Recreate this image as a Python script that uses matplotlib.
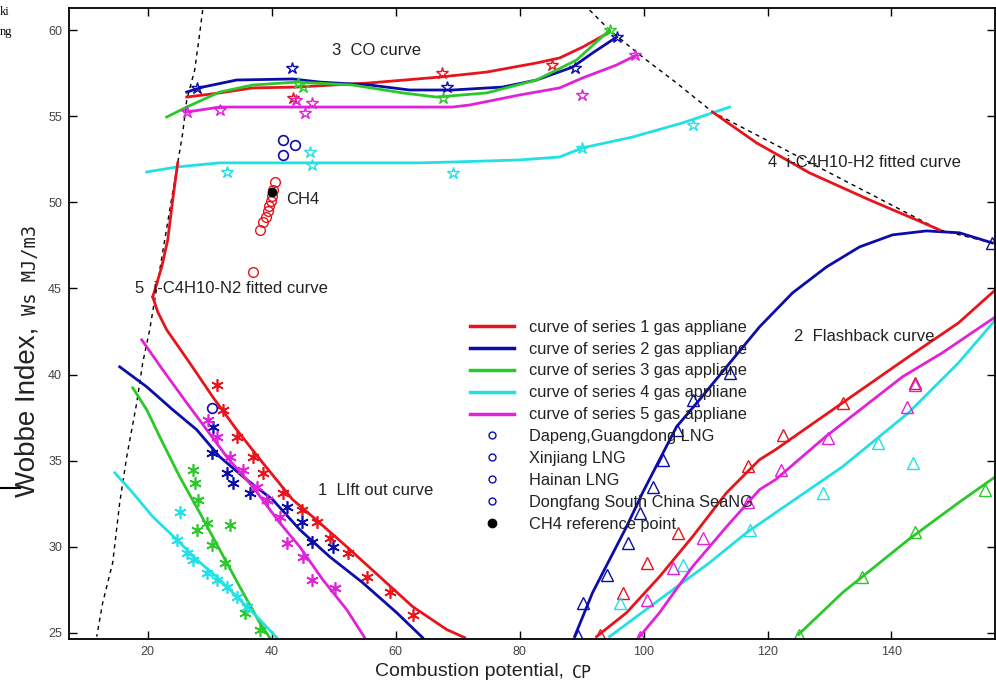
import matplotlib
matplotlib.use("Agg")
import matplotlib.pyplot as plt
from matplotlib.lines import Line2D

# colours of the five gas-appliance series
SERIES_COLORS = ["#e8141c", "#0c0caa", "#2ac82a", "#22e0e4", "#e022d8"]
SERIES_LABELS = [f"curve of series {i} gas appliane" for i in range(1, 6)]

# ---- dashed boundary lines (CP, Wobbe) ----
bound_left_cp = [28.87, 28.39, 27.58, 26.29, 25.65, 24.84, 23.55, 21.94, 20.32, 19.19,
                 18.23, 16.61, 15.48, 14.35, 12.74, 11.77]
bound_left_w = [61.16, 59.83, 57.68, 55.94, 54.03, 52.29, 49.56, 46.08, 42.60, 40.68,
                38.36, 35.23, 32.56, 29.08, 26.76, 24.79]
bound_right_cp = [91.29, 94.52, 99.84, 105.32, 111.13, 147.74, 156.29]
bound_right_w = [61.16, 60.00, 58.43, 56.93, 55.24, 48.40, 47.64]

# ---- 4: i-C4H10-H2 fitted curve ----
h2_cp = [111.13, 118.23, 126.77, 136.45, 144.03, 147.74]
h2_w = [55.24, 53.45, 51.71, 50.14, 48.98, 48.40]

# ---- 5: i-C4H10-N2 fitted curve ----
n2_cp = [24.84, 24.03, 23.23, 22.26, 20.81]
n2_w = [52.29, 50.14, 47.82, 46.25, 44.51]

# ---- 1: lift out curves ----
lift1_cp = [20.81, 21.61, 23.06, 26.77, 30.48, 34.35, 38.55, 43.39, 46.61, 52.10, 57.42,
            62.74, 68.23, 71.13]
lift1_w = [44.51, 43.64, 42.60, 40.68, 38.71, 36.80, 34.88, 32.74, 31.75, 30.01, 28.27,
           26.53, 25.20, 24.73]
lift2_cp = [15.48, 19.84, 24.03, 27.90, 31.61, 35.97, 40.16, 44.52, 49.35, 54.68, 60.16, 64.35]
lift2_w = [40.45, 39.29, 37.96, 36.80, 35.23, 33.90, 32.74, 31.00, 29.43, 27.92, 26.18, 24.73]
lift3_cp = [17.58, 19.84, 22.42, 25.16, 28.39, 31.61, 34.84, 38.06, 39.68]
lift3_w = [39.23, 37.96, 36.04, 34.07, 31.98, 29.84, 27.69, 25.60, 24.73]
lift4_cp = [14.68, 17.58, 20.81, 24.68, 27.90, 31.61, 34.84, 38.06, 40.81]
lift4_w = [34.30, 33.14, 31.75, 30.42, 29.26, 28.10, 26.94, 25.78, 24.73]
lift5_cp = [19.03, 22.42, 26.29, 29.52, 32.74, 36.94, 41.29, 44.52, 48.23, 52.10, 55.00]
lift5_w = [42.02, 40.28, 38.36, 36.80, 35.23, 33.49, 31.40, 30.01, 28.10, 26.36, 24.73]

# lift out test points
lift1_pts_cp = [31.13, 32.10, 34.35, 36.94, 38.55, 41.77, 44.84, 47.26, 49.35, 52.26, 55.32, 59.03, 62.74]
lift1_pts_w = [39.41, 37.96, 36.39, 35.23, 34.30, 33.14, 32.16, 31.46, 30.53, 29.66, 28.27, 27.40, 26.07]
lift2_pts_cp = [30.48, 30.32, 32.74, 33.71, 36.45, 39.19, 42.42, 44.84, 46.45, 49.84]
lift2_pts_w = [36.97, 35.46, 34.30, 33.72, 33.14, 32.74, 32.33, 31.46, 30.30, 30.01]
lift3_pts_cp = [27.26, 27.58, 28.06, 29.52, 27.90, 33.23, 30.32, 32.42, 35.65, 38.06]
lift3_pts_w = [34.48, 33.72, 32.74, 31.40, 31.00, 31.29, 30.13, 29.08, 26.18, 25.20]
lift4_pts_cp = [25.16, 24.68, 26.29, 27.26, 29.52, 31.13, 32.74, 34.35, 35.97]
lift4_pts_w = [32.04, 30.42, 29.66, 29.26, 28.50, 28.10, 27.69, 27.11, 26.53]
lift5_pts_cp = [29.68, 31.13, 33.23, 35.32, 37.58, 39.19, 41.29, 42.42, 45.00, 46.45, 50.16]
lift5_pts_w = [37.38, 36.39, 35.23, 34.48, 33.49, 32.74, 31.75, 30.24, 29.43, 28.10, 27.63]

# ---- 3: CO curves ----
co1_cp = [26.29, 31.61, 36.94, 44.03, 55.81, 67.10, 74.68, 82.74, 86.45, 90.16, 94.52]
co1_w = [56.11, 56.35, 56.64, 56.69, 56.93, 57.27, 57.56, 58.09, 58.38, 59.01, 59.88]
co2_cp = [26.29, 28.87, 34.35, 43.39, 47.74, 55.81, 62.26, 69.19, 77.26, 82.74, 88.55, 91.77, 95.65]
co2_w = [56.40, 56.69, 57.10, 57.16, 56.98, 56.81, 56.52, 56.52, 56.69, 57.10, 57.85, 58.67, 59.59]
co3_cp = [23.06, 26.29, 31.61, 36.94, 44.03, 53.06, 61.13, 66.61, 74.68, 82.74, 89.19, 94.52]
co3_w = [54.95, 55.53, 56.40, 56.81, 56.98, 56.81, 56.35, 56.11, 56.35, 57.10, 58.26, 60.00]
co4_cp = [19.84, 24.68, 31.61, 47.74, 63.87, 69.19, 80.00, 86.45, 90.16, 98.23, 106.29, 113.87]
co4_w = [51.76, 52.05, 52.29, 52.29, 52.29, 52.34, 52.46, 52.63, 53.16, 53.79, 54.61, 55.53]
co5_cp = [26.29, 31.61, 42.42, 58.55, 69.19, 71.94, 80.00, 86.45, 90.16, 95.65, 98.87]
co5_w = [55.24, 55.53, 55.53, 55.53, 55.53, 55.65, 56.23, 56.64, 57.22, 57.97, 58.55]

co1_pts_cp = [43.39, 67.42, 85.16]
co1_pts_w = [56.06, 57.50, 57.97]
co2_pts_cp = [27.90, 43.23, 68.23, 88.87, 95.65]
co2_pts_w = [56.64, 57.80, 56.69, 57.80, 59.59]
co3_pts_cp = [44.19, 45.00, 67.58, 94.52]
co3_pts_w = [56.93, 56.69, 56.06, 60.00]
co4_pts_cp = [32.74, 46.13, 46.45, 69.19, 90.00, 107.90]
co4_pts_w = [51.76, 52.92, 52.17, 51.71, 53.16, 54.49]
co5_pts_cp = [26.29, 31.61, 43.87, 45.32, 46.45, 90.00, 98.55]
co5_pts_w = [55.24, 55.36, 55.94, 55.19, 55.77, 56.23, 58.55]

# ---- 2: flashback curves ----
flash1_cp = [92.42, 97.26, 102.58, 107.90, 113.39, 118.71, 121.29, 132.10, 142.74, 150.81, 156.77]
flash1_w = [24.79, 26.18, 28.27, 30.59, 33.14, 35.06, 35.64, 38.36, 41.03, 43.00, 44.92]
flash2_cp = [88.87, 91.77, 94.52, 97.26, 99.84, 102.58, 105.32, 109.03, 113.39, 118.71, 124.03,
             129.52, 134.84, 140.16, 145.65, 150.97, 156.29]
flash2_w = [24.79, 27.34, 29.26, 31.17, 33.14, 35.06, 36.97, 38.54, 40.45, 42.77, 44.74,
            46.25, 47.41, 48.11, 48.34, 48.23, 47.64]
flash3_cp = [125.00, 132.10, 142.74, 150.81, 156.77]
flash3_w = [24.91, 27.34, 30.42, 32.56, 34.07]
flash4_cp = [94.52, 102.58, 110.65, 116.61, 121.29, 132.10, 142.74, 150.81, 156.77]
flash4_w = [24.79, 26.94, 29.08, 30.82, 31.98, 34.65, 37.78, 40.68, 43.18]
flash5_cp = [99.35, 102.58, 107.90, 113.39, 118.71, 121.29, 129.35, 141.77, 148.23, 156.77]
flash5_w = [24.79, 26.18, 28.85, 31.17, 33.32, 33.90, 36.39, 39.87, 41.27, 43.35]

flash1_pts_cp = [92.90, 96.61, 100.48, 105.48, 116.77, 122.42, 132.10, 143.87]
flash1_pts_w = [24.91, 27.34, 29.08, 30.82, 34.71, 36.51, 38.36, 39.52]
flash2_pts_cp = [89.35, 90.16, 94.03, 97.42, 99.35, 101.45, 103.06, 105.32, 107.90, 113.87, 156.29]
flash2_pts_w = [24.85, 26.76, 28.39, 30.24, 31.98, 33.49, 35.06, 36.80, 38.54, 40.10, 47.64]
flash3_pts_cp = [125.00, 135.32, 143.87, 155.16]
flash3_pts_w = [24.91, 28.27, 30.88, 33.32]
flash4_pts_cp = [96.13, 106.29, 117.10, 128.87, 137.90, 143.55]
flash4_pts_w = [26.76, 28.97, 31.00, 33.14, 36.04, 34.88]
flash5_pts_cp = [99.35, 100.48, 104.68, 109.52, 116.77, 122.10, 129.68, 142.58, 143.87]
flash5_pts_w = [24.79, 26.94, 28.79, 30.53, 32.62, 34.48, 36.33, 38.13, 39.41]

# ---- gas samples ----
ch4_cp = [40.48, 40.16, 40.00, 39.84, 39.52, 39.35, 39.03, 38.55, 38.06, 36.94]
ch4_w = [51.18, 50.72, 50.37, 50.08, 49.79, 49.50, 49.15, 48.86, 48.40, 45.96]
ch4_ref_cp = [40.00]
ch4_ref_w = [50.60]
lng_names = ["Dapeng,Guangdong LNG", "Xinjiang LNG", "Hainan LNG", "Dongfang South China SeaNG"]
lng_cp = [41.77, 43.71, 41.77, 30.32]
lng_w = [53.62, 53.33, 52.75, 38.07]

X_TICKS = [20, 40, 60, 80, 100, 120, 140]
Y_TICKS = [25, 30, 35, 40, 45, 50, 55, 60]

plt.rcParams["font.family"] = ["Liberation Sans", "DejaVu Sans"]

fig = plt.figure(figsize=(9.96, 6.84), dpi=100)
ax = fig.add_axes([69 / 996, 45 / 684, 926 / 996, 631 / 684])

LW = 2.0
ASTERISK = (6, 2, 0)

# boundaries
ax.plot(bound_left_cp, bound_left_w, ls=(0, (3, 3)), color="black", lw=1.0)
ax.plot(bound_right_cp, bound_right_w, ls=(0, (3, 3)), color="black", lw=1.0)

lifts = [(lift1_cp, lift1_w), (lift2_cp, lift2_w), (lift3_cp, lift3_w),
         (lift4_cp, lift4_w), (lift5_cp, lift5_w)]
lift_pts = [(lift1_pts_cp, lift1_pts_w), (lift2_pts_cp, lift2_pts_w), (lift3_pts_cp, lift3_pts_w),
            (lift4_pts_cp, lift4_pts_w), (lift5_pts_cp, lift5_pts_w)]
cos = [(co1_cp, co1_w), (co2_cp, co2_w), (co3_cp, co3_w), (co4_cp, co4_w), (co5_cp, co5_w)]
co_pts = [(co1_pts_cp, co1_pts_w), (co2_pts_cp, co2_pts_w), (co3_pts_cp, co3_pts_w),
          (co4_pts_cp, co4_pts_w), (co5_pts_cp, co5_pts_w)]
flashes = [(flash1_cp, flash1_w), (flash2_cp, flash2_w), (flash3_cp, flash3_w),
           (flash4_cp, flash4_w), (flash5_cp, flash5_w)]
flash_pts = [(flash1_pts_cp, flash1_pts_w), (flash2_pts_cp, flash2_pts_w), (flash3_pts_cp, flash3_pts_w),
             (flash4_pts_cp, flash4_pts_w), (flash5_pts_cp, flash5_pts_w)]

for i, c in enumerate(SERIES_COLORS):
    ax.plot(*lifts[i], color=c, lw=LW)
    ax.plot(*cos[i], color=c, lw=LW)
    ax.plot(*flashes[i], color=c, lw=LW)
    ax.plot(*lift_pts[i], ls="none", marker=ASTERISK, ms=9, mew=1.2, color=c)
    ax.plot(*co_pts[i], ls="none", marker="*", ms=9, mfc="none", mew=1.0, color=c)
    ax.plot(*flash_pts[i], ls="none", marker="^", ms=8, mfc="none", mew=1.0, color=c)

ax.plot(h2_cp, h2_w, color=SERIES_COLORS[0], lw=LW)
ax.plot(n2_cp, n2_w, color=SERIES_COLORS[0], lw=LW)

ax.plot(ch4_cp, ch4_w, ls="none", marker="o", ms=7, mfc="none", mew=1.0, color=SERIES_COLORS[0])
ax.plot(lng_cp, lng_w, ls="none", marker="o", ms=7, mfc="none", mew=1.2, color=SERIES_COLORS[1])
ax.plot(ch4_ref_cp, ch4_ref_w, ls="none", marker="o", ms=6, color="black")

# annotations
ann = dict(fontsize=12, color="#222222", va="center", ha="left")
ax.text(49.8, 58.84, "3  CO curve", **ann)
ax.text(42.4, 50.14, "CH4", **ann)
ax.text(120.0, 52.34, "4  i-C4H10-H2 fitted curve", **ann)
ax.text(17.9, 44.98, "5  i-C4H10-N2 fitted curve", **ann)
ax.text(124.35, 42.19, "2  Flashback curve", **ann)
ax.text(47.4, 33.26, "1  LIft out curve", **ann)

# legend
handles = [Line2D([], [], color=c, lw=2.5) for c in SERIES_COLORS]
handles += [Line2D([], [], ls="none", marker="o", ms=5, mfc="none", mew=1.0,
                   color=SERIES_COLORS[1]) for _ in lng_names]
handles.append(Line2D([], [], ls="none", marker="o", ms=6, color="black"))
labels = SERIES_LABELS + lng_names + ["CH4 reference point"]
ax.legend(handles, labels, loc="upper left", bbox_to_anchor=(0.433, 0.506),
          frameon=False, fontsize=11.8, handlelength=2.7, handletextpad=0.9,
          labelspacing=0.42, borderpad=0, borderaxespad=0, labelcolor="#222222")

ax.set_xlim(7.3, 156.7)
ax.set_ylim(24.65, 61.28)
ax.set_xticks(X_TICKS)
ax.set_yticks(Y_TICKS)
ax.tick_params(direction="in", length=6, width=1.0, top=True, right=True,
               labelsize=9, labelcolor="#444444", pad=5)
for s in ax.spines.values():
    s.set_linewidth(1.3)

# axis titles
fig.text(375 / 996, 1 - 672 / 684, "Combustion potential,", fontsize=14,
         ha="left", va="center", color="#222222")
fig.text(572 / 996, 1 - 673 / 684, "CP", fontsize=12, family="DejaVu Sans Mono",
         ha="left", va="center", color="#222222")
fig.text(27 / 996, 1 - 412 / 684, "Wobbe Index,", fontsize=20, rotation=90,
         ha="center", va="center", color="#222222")
fig.text(30 / 996, 1 - 270 / 684, "Ws MJ/m3", fontsize=13.5, family="DejaVu Sans Mono",
         rotation=90, ha="center", va="center", color="#222222")

# bits of the neighbouring page in the scan
fig.text(0.0, 1 - 12 / 684, "ki", fontsize=9, family="Liberation Serif", va="center")
fig.text(0.0, 1 - 32 / 684, "ng", fontsize=9, family="Liberation Serif", va="center")
fig.add_artist(Line2D([0, 20 / 996], [1 - 488 / 684, 1 - 488 / 684], color="black", lw=1.5))

fig.savefig("out.png", dpi=100)
